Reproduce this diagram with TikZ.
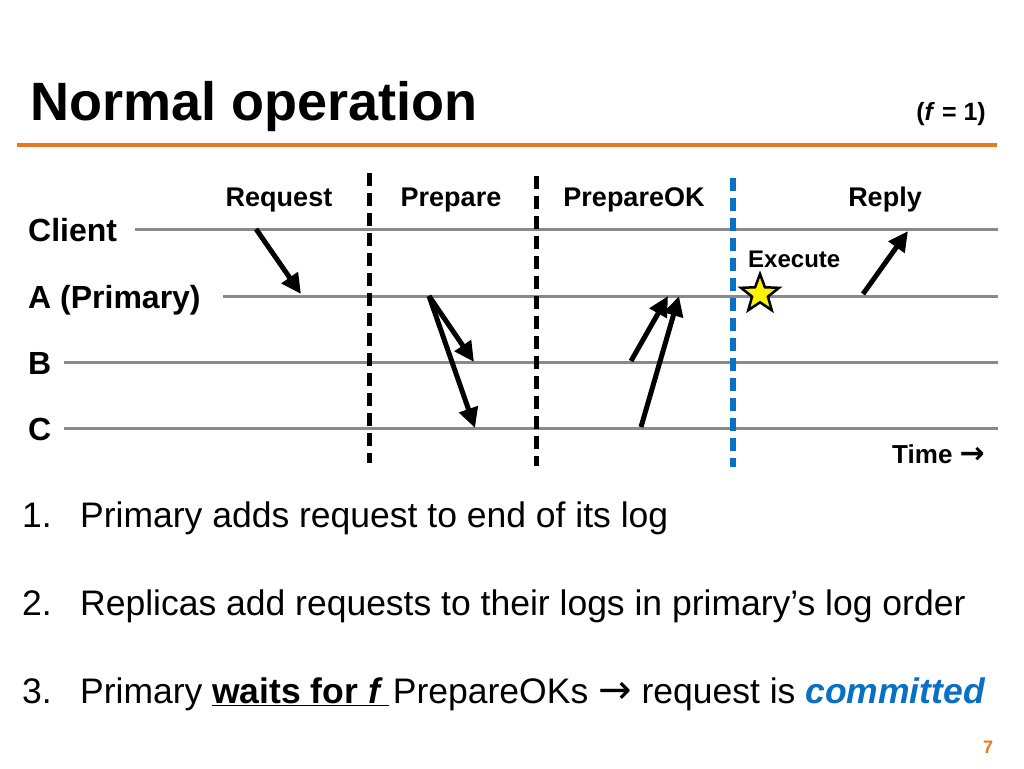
\documentclass[tikz,border=0pt]{standalone}
\usepackage{fontspec}
\setmainfont{Liberation Sans}
\newfontfamily\symb{DejaVu Sans}
\usetikzlibrary{arrows.meta,shapes.geometric}

\definecolor{slideorange}{HTML}{E87722}
\definecolor{commitblue}{HTML}{0A70C4}
\definecolor{linegray}{HTML}{8A8A8A}

\tikzset{
  timeline/.style={linegray, line width=3pt},
  phase/.style={font=\bfseries\fontsize{27}{30}\selectfont, anchor=base, inner sep=0pt},
  proc/.style={font=\bfseries\fontsize{32}{36}\selectfont, anchor=base west, inner sep=0pt},
  msg/.style={line width=5pt, -{Triangle[length=20pt,width=19pt]}},
  barrier/.style={line width=5pt, dash pattern=on 13pt off 7pt},
  bullet/.style={font=\fontsize{35.5}{40}\selectfont, anchor=base west, inner sep=0pt},
}

\begin{document}
\begin{tikzpicture}[x=1pt,y=-1pt]
    \fill[white] (0,0) rectangle (1024,768);
    \useasboundingbox (0,0) rectangle (1024,768);

    % Title
    \node[anchor=base west, inner sep=0pt, font=\bfseries\fontsize{54}{60}\selectfont] (title) at (30,120) {Normal operation};
    \node[anchor=base east, inner sep=0pt, font=\bfseries\fontsize{25}{28}\selectfont] (fval) at (986,120) {(\textit{f} = 1)};
    \draw[slideorange, line width=3.5pt] (17,145) -- (997,145);

    % Timelines
    \foreach \name/\lbl/\y/\xs in {client/Client/229/135, primary/{A (Primary)}/296/223, repb/B/362/64, repc/C/428/64} {
      \node[proc] (\name) at (28,\y+12) {\lbl};
      \draw[timeline] (\xs,\y) -- (998,\y);
    }

    % Phases
    \node[phase] (request) at (279,206) {Request};
    \node[phase] (prepare) at (451,206) {Prepare};
    \node[phase] (prepareok) at (634,206) {PrepareOK};
    \node[phase] (reply) at (885,206) {Reply};

    \draw[barrier] (369,173) -- (369,463);
    \draw[barrier] (536,176) -- (536,466);
    \draw[barrier, commitblue, line width=5.5pt] (733,178) -- (733,467);

    % Messages
    \coordinate (req-s) at (256,229);
    \coordinate (req-e) at (301,294);
    \coordinate (prep-s) at (429,296);
    \coordinate (prep-b) at (474,362);
    \coordinate (prep-c) at (475,428);
    \coordinate (ok-b) at (631,361);
    \coordinate (ok-b-e) at (668,296);
    \coordinate (ok-c) at (641,427);
    \coordinate (ok-c-e) at (679,296);
    \coordinate (rep-s) at (863,294);
    \coordinate (rep-e) at (908,231);

    \draw[msg] (req-s) -- (req-e);
    \draw[msg] (prep-s) -- (prep-b);
    \draw[msg] (prep-s) -- (prep-c);
    \draw[msg] (ok-b) -- (ok-b-e);
    \draw[msg] (ok-c) -- (ok-c-e);
    \draw[msg] (rep-s) -- (rep-e);

    % Execute
    \node[star, star points=5, star point ratio=2.4, draw=black, fill=yellow, line width=2.5pt, minimum size=40pt, inner sep=0pt] (exec) at (760,294) {};
    \node[anchor=base west, inner sep=0pt, font=\bfseries\fontsize{24}{28}\selectfont] (execlbl) at (748,267) {Execute};
    \node[anchor=base east, inner sep=0pt, font=\bfseries\fontsize{26}{28}\selectfont] (time) at (985,463) {Time {\symb\bfseries\fontsize{30}{30}\selectfont →}};

    % Steps
    \node[bullet] (n1) at (22,527) {1.};
    \node[bullet] (t1) at (80,527) {Primary adds request to end of its log};
    \node[bullet] (n2) at (22,615) {2.};
    \node[bullet] (t2) at (80,615) {Replicas add requests to their logs in primary’s log order};
    \node[bullet] (n3) at (22,703) {3.};
    \node[bullet] (t3) at (80,703) {Primary \underline{\textbf{waits for \textit{f}}\kern6pt}\kern4pt PrepareOKs {\symb\fontsize{40}{40}\selectfont →} request is \textcolor{commitblue}{\textbf{\textit{committed}}}};

    \node[anchor=base, inner sep=0pt, font=\bfseries\fontsize{18}{20}\selectfont, text=slideorange] (pagenum) at (988,753) {7};
\end{tikzpicture}
\end{document}
